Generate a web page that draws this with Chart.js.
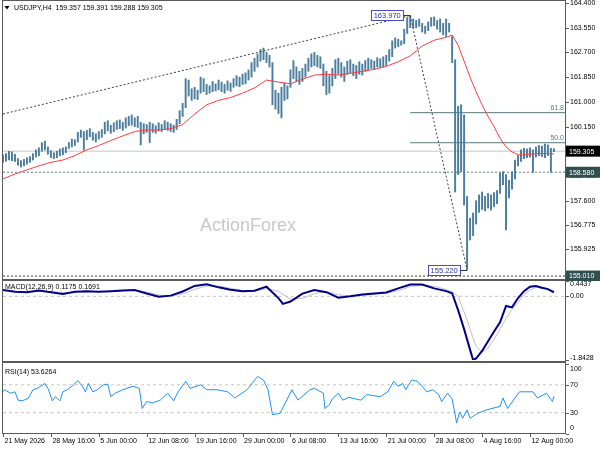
<!DOCTYPE html>
<html><head><meta charset="utf-8">
<script src="https://cdn.jsdelivr.net/npm/chart.js@4"></script>
<style>
html,body{margin:0;padding:0;background:#fff;width:600px;height:450px;overflow:hidden}
canvas{position:absolute;left:0}
</style></head><body>
<canvas id="cMain" width="600" height="281" style="top:0px"></canvas>
<canvas id="cMacd" width="600" height="83" style="top:279px"></canvas>
<canvas id="cRsi" width="600" height="88" style="top:362px"></canvas>
<script>
// ---------- DATA ----------
const barHigh = [
159.18,159.22,159.30,159.28,159.20,159.05,158.98,159.02,159.08,159.12,
159.22,159.35,159.42,159.60,159.65,159.45,159.32,159.25,159.30,159.38,
159.42,159.45,159.60,159.72,159.70,159.95,160.03,159.98,160.02,160.08,
159.95,159.90,159.98,160.05,160.30,160.35,160.20,160.28,160.35,160.38,
160.30,160.45,160.50,160.55,160.45,160.50,160.30,160.25,160.22,160.30,
160.25,160.18,160.28,160.22,160.35,160.30,160.25,160.20,160.40,160.70,
160.95,161.80,161.75,161.45,161.50,161.40,161.85,161.80,161.60,161.55,
161.70,161.62,161.75,161.68,161.60,161.72,161.65,161.80,161.90,161.85,
161.95,162.00,162.10,162.35,162.50,162.65,162.80,162.85,162.70,162.60,
162.35,161.40,161.30,161.50,161.65,161.55,162.10,162.42,162.20,162.05,
162.15,162.30,162.50,162.65,162.70,162.60,162.55,162.30,162.05,161.90,
162.15,162.45,162.50,162.35,162.20,162.40,162.45,162.30,162.25,162.38,
162.30,162.42,162.50,162.45,162.40,162.52,162.48,162.55,162.60,162.80,
163.10,163.20,163.15,163.10,163.50,163.90,163.97,163.85,163.80,163.85,
163.70,163.60,163.75,163.90,163.92,163.80,163.85,163.70,163.85,163.70,
163.25,162.45,160.85,160.90,160.55,157.75,157.00,157.18,157.60,157.80,
157.90,157.75,157.85,157.80,157.88,157.95,158.55,158.60,158.50,158.30,
158.60,159.00,159.15,159.35,159.40,159.38,159.42,159.35,159.45,159.50,
159.48,159.55,159.52,159.40,159.39];
const barLow = [
158.92,158.96,159.00,158.98,158.95,158.82,158.76,158.80,158.86,158.92,
159.00,159.10,159.15,159.30,159.35,159.20,159.08,159.05,159.08,159.15,
159.18,159.25,159.40,159.45,159.50,159.62,159.78,159.34,159.70,159.80,
159.68,159.62,159.72,159.78,159.90,160.00,159.92,159.98,160.05,160.08,
160.02,160.10,160.18,160.20,160.15,160.12,159.52,159.90,159.95,159.60,
159.95,159.92,160.00,159.98,160.05,160.02,159.98,159.95,160.05,160.25,
160.50,160.80,161.20,161.05,161.10,161.08,161.30,161.35,161.25,161.30,
161.35,161.38,161.42,161.35,161.30,161.40,161.36,161.50,161.55,161.52,
161.60,161.62,161.75,161.85,162.05,162.20,162.40,162.45,162.35,162.20,
160.90,160.75,160.60,160.45,161.05,161.10,161.50,161.80,161.70,161.60,
161.70,161.85,162.05,162.20,162.25,162.20,162.15,161.55,161.25,161.30,
161.55,161.80,161.95,161.85,161.70,161.95,162.00,161.90,161.80,161.95,
161.92,162.05,162.10,162.15,162.12,162.20,162.18,162.20,162.25,162.40,
162.55,162.85,162.90,162.95,163.00,163.35,163.55,163.55,163.55,163.60,
163.40,163.35,163.45,163.60,163.62,163.50,163.40,163.30,163.25,163.40,
162.35,157.90,158.50,158.60,157.45,155.22,156.25,156.40,156.80,157.20,
157.30,157.25,157.35,157.28,157.40,157.50,157.85,158.15,156.60,157.70,
158.00,158.35,158.80,158.95,159.05,159.08,159.10,158.58,159.10,159.15,
159.12,159.08,159.15,158.58,159.29];

const maIdx = [0,8,16,24,32,40,48,56,64,72,80,88,96,104,112,120,128,136,144,152,160,168,176,184,192,200,208,216,224,232,240,248,256,264,272,280,288,296,
300,304,308,312,316,320,324,328,332,336,340,344,348,352,360,368];
const maVal = [158.35,158.52,158.66,158.80,158.92,159.00,159.15,159.35,159.50,159.67,159.83,159.98,160.03,160.03,160.08,160.22,160.58,160.90,161.05,161.15,161.30,161.48,161.75,161.68,161.62,161.78,161.92,161.95,161.92,161.98,162.05,162.12,162.22,162.38,162.58,162.92,163.12,163.22,
163.30,162.95,162.40,161.85,161.35,160.90,160.50,160.15,159.75,159.45,159.28,159.18,159.17,159.20,159.23,159.21];

const macdIdx = [0,8,16,24,32,40,48,56,64,72,80,88,96,104,112,120,128,136,144,152,160,168,176,184,187,192,200,208,216,224,232,240,248,256,264,272,280,288,296,
300,304,308,312,314,316,320,324,328,332,336,340,344,348,352,356,360,364,368];
const macdVal = [0.18,0.13,0.12,0.17,0.12,0.07,0.13,0.15,0.13,0.15,0.17,0.18,0.08,-0.01,0.02,0.14,0.30,0.35,0.26,0.19,0.15,0.16,0.28,-0.05,-0.22,-0.15,0.08,0.18,0.12,-0.04,0.00,0.05,0.08,0.11,0.23,0.34,0.34,0.23,0.15,
0.09,-0.40,-0.95,-1.55,-1.84,-1.80,-1.58,-1.30,-1.02,-0.75,-0.28,-0.32,-0.05,0.15,0.28,0.30,0.25,0.21,0.1175];
const signalVal = [0.17,0.15,0.13,0.14,0.14,0.10,0.11,0.13,0.14,0.14,0.16,0.17,0.13,0.04,0.01,0.07,0.20,0.30,0.30,0.23,0.17,0.15,0.22,0.15,0.05,-0.08,-0.06,0.08,0.14,0.05,0.00,0.03,0.06,0.09,0.16,0.28,0.33,0.29,0.20,
0.14,0.00,-0.45,-0.95,-1.20,-1.45,-1.62,-1.50,-1.25,-0.95,-0.65,-0.38,-0.18,0.05,0.18,0.25,0.24,0.20,0.1691];

const rsiIdx = [0,1,5,8,10,13,17,20,23,28,30,33,35,38,40,43,46,50,53,55,57,60,63,67,70,72,75,80,87,91,93,96,100,105,110,114,117,122,125,132,136,143,150,155,163,170,174,177,180,185,193,197,205,208,214,215,218,220,224,227,231,239,243,252,257,261,264,267,269,273,277,280,283,287,291,293,297,300,302,303,305,307,310,312,317,323,332,334,337,345,354,357,363,367,368];
const rsiVal = [60,63,58,60,48,47,51,63,65,72,65,47,53,47,60,63,68,76,68,60,72,60,63,70,71,53,58,63,68,65,36,46,44,48,58,47,60,75,65,70,63,63,60,51,63,82,77,63,27,29,63,48,63,65,58,36,41,50,58,48,52,48,56,53,60,75,68,72,63,77,75,68,60,63,56,46,58,50,27,15,31,22,34,22,29,34,39,51,36,60,60,51,58,46,53.63];

const priceTicks = [164.4,163.55,162.7,161.85,161.0,160.15,158.45,157.6,156.775,155.925];
const priceTickLabels = ['164.400','163.550','162.700','161.850','161.000','160.150','158.450','157.600','156.775','155.925'];
const levelVals = [159.305,158.580,155.010];
const levelLabels = ['159.305','158.580','155.010'];
const fibVals = [160.628,159.595];
const fibNames = ['61.8','50.0'];
const swingIdx = [0,272,310];
const swingVal = [160.583,163.970,155.220];
const swingLabels = ['163.970','155.220'];
const dateIdx = [0,32,64,96,128,160,192,224,256,288,320,352];
const dateLabels = ['21 May 2026','28 May 16:00','5 Jun 00:00','12 Jun 08:00','19 Jun 16:00','29 Jun 00:00','6 Jul 08:00','13 Jul 16:00','21 Jul 00:00','28 Jul 08:00','4 Aug 16:00','12 Aug 00:00'];
const macdTickVals = [0.4437,0,-1.8428];
const macdTickLabels = ['0.4437','0.00','-1.8428'];
const rsiTickVals = [100,70,30,0];
const rsiTickLabels = ['100','70','30','0'];
const titleMain = 'USDJPY,H4  159.357 159.391 159.288 159.305';
const titleMacd = 'MACD(12,26,9) 0.1175 0.1691';
const titleRsi = 'RSI(14) 53.6264';

// ---------- STYLE ----------
const X_MIN = 0, X_MAX = 375.4;
const FF = '"Liberation Sans", Arial, sans-serif';
const FRAME = '#5a5a5a';
const levelColors = ['#c4c4c4','#5f7f7f','#3a3a3a'];
const levelDash = [[],[2,2],[2,2]];
const levelBox = ['#000000','#2f4f4f','#2f4f4f'];
const FIB = '#56787a';

function txt(c, s, x, y, color, align, size, base){
  c.save(); c.font = size+'px '+FF; c.fillStyle = color; c.textAlign = align||'left';
  c.textBaseline = base||'middle'; c.fillText(s, x, y); c.restore();
}
function vline(c, x, y0, y1){ c.beginPath(); c.moveTo(x, y0); c.lineTo(x, y1); c.stroke(); }
function hl(c, y, x0, x1){ c.beginPath(); c.moveTo(x0, y); c.lineTo(x1, y); c.stroke(); }
function seg(idx, vals){ return idx.map((k,i)=>({x:k, y:vals[i]})); }
function flat(v, k0){ return [{x:k0, y:v},{x:X_MAX, y:v}]; }
function lineDs(data, color, w, dash, order){
  return {type:'line', data, borderColor:color, borderWidth:w, borderDash:dash||[], pointRadius:0, tension:0, fill:false, order};
}
const xScale = {type:'linear', min:X_MIN, max:X_MAX, display:false, offset:false};
const baseOpts = (pad, ymin, ymax) => ({
  responsive:false, animation:false, events:[],
  layout:{padding:pad},
  plugins:{legend:{display:false}, tooltip:{enabled:false}},
  scales:{x:xScale, y:{type:'linear', min:ymin, max:ymax, display:false}}
});

// ---------- MAIN ----------
const mainDeco = {
  id:'mainDeco',
  beforeDatasetsDraw(chart){ txt(chart.ctx, 'ActionForex', 200, 226, '#c8c8c8', 'left', 18); },
  afterDraw(chart){
    const c = chart.ctx, xs = chart.scales.x, ys = chart.scales.y;
    c.save(); c.strokeStyle = FRAME; c.lineWidth = 1;
    vline(c, 2.5, 0, 281); vline(c, 565.5, 0, 281);
    hl(c, 0.5, 2, 566); hl(c, 279.5, 2, 566);
    priceTicks.forEach((v,i)=>{
      const y = ys.getPixelForValue(v);
      hl(c, Math.round(y)+0.5, 566, 569);
      txt(c, priceTickLabels[i], 570, y, '#000', 'left', 7);
    });
    c.restore();
    levelVals.forEach((v,i)=>{
      const y = ys.getPixelForValue(v);
      c.fillStyle = levelBox[i]; c.fillRect(566, y-5.5, 34, 11);
      txt(c, levelLabels[i], 569, y+0.5, '#fff', 'left', 7);
    });
    fibVals.forEach((v,i)=>{
      const y = ys.getPixelForValue(v);
      txt(c, fibNames[i], 564, y-5, FIB, 'right', 7);
    });
    for (let i = 1; i < swingIdx.length; i++){
      const px = xs.getPixelForValue(swingIdx[i]), py = ys.getPixelForValue(swingVal[i]);
      const w = 32, h = 10, bx = px - 7.5 - w;
      c.save();
      c.strokeStyle = '#333'; c.lineWidth = 1; hl(c, Math.round(py)+0.5, bx+w, px);
      c.fillStyle = '#fff'; c.fillRect(bx, py-h/2, w, h);
      c.strokeStyle = '#4b4bc8'; c.strokeRect(Math.round(bx)+0.5, Math.round(py-h/2)+0.5, w, h);
      c.restore();
      txt(c, swingLabels[i-1], bx+w/2+0.5, py+0.5, '#3030a0', 'center', 7.5);
    }
    c.save(); c.fillStyle = '#000'; c.beginPath(); c.moveTo(4.5,6); c.lineTo(9.5,6); c.lineTo(7,9.5); c.closePath(); c.fill(); c.restore();
    txt(c, titleMain, 14, 8, '#000', 'left', 7);
  }
};
const mainDatasets = [
  {type:'bar', data: barHigh.map((h,j)=>({x:j*2, y:[barLow[j], h]})), backgroundColor:'#4d7e9e', borderWidth:0, barThickness:1.3, order:5},
  lineDs(seg(maIdx, maVal), '#ff3b3b', 1, [], 1),
  lineDs([{x:swingIdx[0], y:swingVal[0]},{x:swingIdx[1], y:swingVal[1]}], '#404040', 1, [2,2], 2),
  lineDs([{x:swingIdx[1], y:swingVal[1]},{x:swingIdx[2], y:swingVal[2]}], '#404040', 1, [2,2], 2),
];
levelVals.forEach((v,i)=>mainDatasets.push(lineDs(flat(v, X_MIN), levelColors[i], 1, levelDash[i], 10)));
fibVals.forEach(v=>mainDatasets.push(lineDs(flat(v, swingIdx[1]), FIB, 1, [], 9)));
new Chart(document.getElementById('cMain'), {
  type:'bar', data:{datasets:mainDatasets},
  options: baseOpts({left:3, right:35, top:0, bottom:0}, 154.840, 164.503),
  plugins:[mainDeco]
});

// ---------- MACD ----------
const macdDeco = {
  id:'macdDeco',
  afterDraw(chart){
    const c = chart.ctx, ys = chart.scales.y;
    c.save(); c.strokeStyle = FRAME; c.lineWidth = 1;
    vline(c, 2.5, 0, 83); vline(c, 565.5, 0, 83);
    hl(c, 1.5, 2, 566); hl(c, 82.5, 2, 566);
    const pos = [5.3, ys.getPixelForValue(0), 78.7];
    macdTickVals.forEach((v,i)=>{
      const y = ys.getPixelForValue(v);
      hl(c, Math.round(y)+0.5, 566, 569);
      txt(c, macdTickLabels[i], 570, pos[i], '#000', 'left', 7);
    });
    c.restore();
    txt(c, titleMacd, 5, 7.7, '#000', 'left', 7);
  }
};
new Chart(document.getElementById('cMacd'), {
  type:'line',
  data:{datasets:[
    lineDs(seg(macdIdx, macdVal), '#00008b', 2, [], 1),
    lineDs(seg(macdIdx, signalVal), '#c0c0c0', 1, [], 2),
    lineDs(flat(0, X_MIN), '#c4c4c4', 1, [3,3], 5)
  ]},
  options: baseOpts({left:3, right:35, top:2, bottom:2}, -1.8428, 0.4437),
  plugins:[macdDeco]
});

// ---------- RSI ----------
const rsiDeco = {
  id:'rsiDeco',
  afterDraw(chart){
    const c = chart.ctx, xs = chart.scales.x, ys = chart.scales.y;
    c.save(); c.strokeStyle = FRAME; c.lineWidth = 1;
    vline(c, 2.5, 0, 72); vline(c, 565.5, 0, 72);
    hl(c, 0.5, 2, 566); hl(c, 71.5, 2, 566);
    const pos = [7, ys.getPixelForValue(70), ys.getPixelForValue(30), 66.5];
    rsiTickVals.forEach((v,i)=>{
      const y = ys.getPixelForValue(v);
      hl(c, Math.round(y)+0.5, 566, 569);
      txt(c, rsiTickLabels[i], 570, pos[i], '#000', 'left', 7);
    });
    dateIdx.forEach((k,i)=>{
      const px = xs.getPixelForValue(k);
      vline(c, Math.round(px)+0.5, 71.5, 75);
      txt(c, dateLabels[i], px+1.5, 79.5, '#000', 'left', 7);
    });
    c.restore();
    txt(c, titleRsi, 5, 9.7, '#000', 'left', 7);
  }
};
new Chart(document.getElementById('cRsi'), {
  type:'line',
  data:{datasets:[
    lineDs(seg(rsiIdx, rsiVal), '#1e90ff', 1, [], 1),
    lineDs(flat(70, X_MIN), '#c4c4c4', 1, [3,3], 5),
    lineDs(flat(30, X_MIN), '#c4c4c4', 1, [3,3], 5)
  ]},
  options: baseOpts({left:3, right:35, top:2, bottom:16.5}, 0, 100),
  plugins:[rsiDeco]
});
</script></body></html>
